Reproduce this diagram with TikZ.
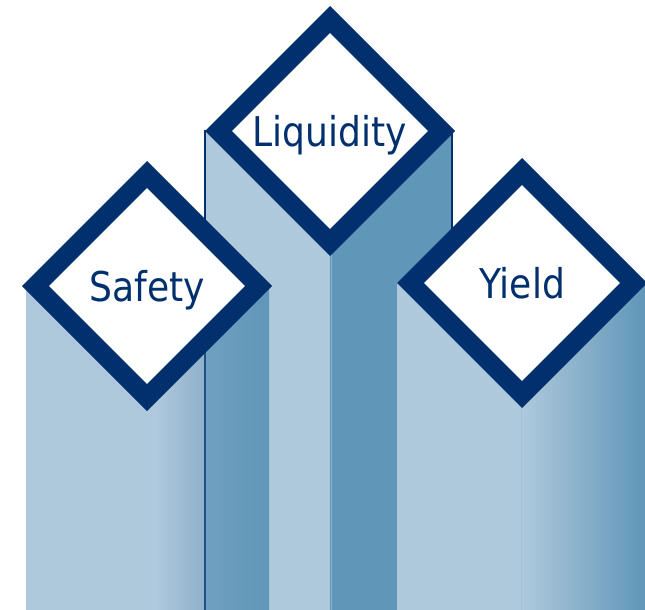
\documentclass[tikz,border=0pt]{standalone}
\usepackage{fontspec}
\setmainfont{DejaVu Sans}[FakeStretch=0.88]
\usetikzlibrary{shapes.geometric}

\definecolor{pillarlight}{HTML}{AFC9DC}
\definecolor{pillardark}{HTML}{6096B8}
\definecolor{pillarmid}{HTML}{8FB0CA}
\definecolor{pillarshade}{HTML}{6FA0C0}
\definecolor{pillarnavy}{HTML}{02306F}

\tikzset{
  gem/.style={diamond, aspect=1, draw=pillarnavy, line width=19pt, fill=white,
    inner sep=0pt, minimum size=231pt, text=pillarnavy,
    font=\fontsize{41}{41}\selectfont, text height=30pt, text depth=0pt}
}

\begin{document}
\begin{tikzpicture}[x=1pt,y=-1pt]

            \useasboundingbox (0,0) rectangle (645,610);

            % middle pillar
            \fill[pillarlight] (205,130) rectangle (330,610);
            \fill[pillardark] (330,130) rectangle (452,610);

            % left pillar
            \fill[pillarlight] (26,288) rectangle (155,610);
            \shade[left color=pillarlight, right color=pillarmid] (155,288) rectangle (205,610);
            \shade[left color=pillarshade, right color=pillardark] (205,288) rectangle (269,610);

            % right pillar
            \fill[pillarlight] (397,283) rectangle (521,610);
            \shade[left color=pillarlight, right color=pillardark] (521,283) rectangle (645,610);

            % pillar edges
            \draw[pillarnavy, line width=1.2pt] (205,130) -- (205,288);
            \draw[pillarnavy!70!pillardark, line width=1.2pt] (205,288) -- (205,610);
            \draw[pillarnavy, line width=1.2pt] (452,130) -- (452,283);
            \draw[pillarmid, line width=1pt] (331,253) -- (331,610);
            \draw[pillarlight!85!pillardark, line width=0.8pt] (521,405) -- (521,610);

            % the three diamonds
            \node[gem] (liquidity) at (330,131) {Liquidity};
            \node[gem] (safety) at (147,286) {Safety};
            \node[gem] (yield) at (522,283) {Yield};

\end{tikzpicture}
\end{document}
